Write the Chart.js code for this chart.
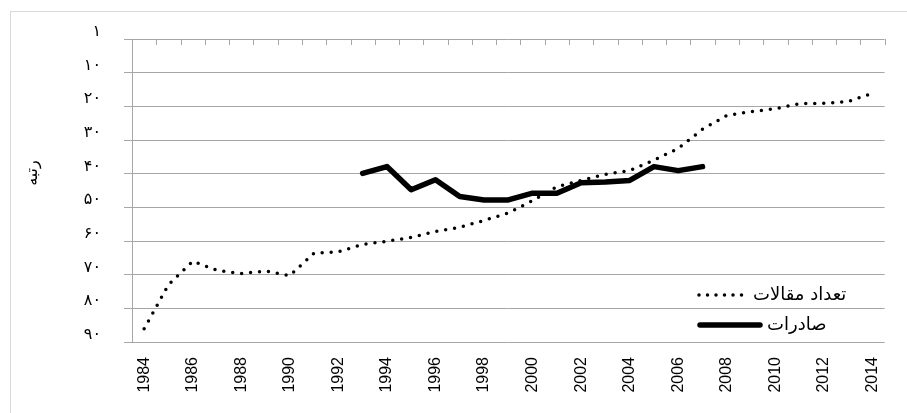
<!DOCTYPE html>
<html>
<head>
<meta charset="utf-8">
<script src="https://cdn.jsdelivr.net/npm/chart.js@4/dist/chart.umd.min.js"></script>
<style>
  html, body { margin: 0; padding: 0; background: #fff; }
  #wrap { width: 907px; height: 413px; }
</style>
</head>
<body>
<div id="wrap"><canvas id="rankChart" width="907" height="413"></canvas></div>
<script>
// Données (rang, 1 = meilleur)
const years = [];
for (let y = 1984; y <= 2014; y++) years.push(String(y));

const articleRanks = [86.1, 73.0, 66.0, 68.7, 69.7, 68.9, 70.3, 63.6, 63.2, 61.0,
    60.1, 58.9, 57.2, 55.9, 53.9, 51.7, 48.0, 43.9, 42.0, 40.2,
    39.1, 36.0, 32.5, 26.8, 22.7, 21.6, 20.7, 19.2, 19.1, 18.6, 16.1];

const exportRanks = [null, null, null, null, null, null, null, null, null,
    39.9, 37.9, 44.8, 41.8, 46.8, 47.8, 47.8, 45.8, 45.8, 42.7, 42.5,
    42.0, 37.9, 39.1, 37.9,
    null, null, null, null, null, null, null];

const yTickLabels = { 0: '۱', 10: '۱۰', 20: '۲۰', 30: '۳۰', 40: '۴۰', 50: '۵۰', 60: '۶۰', 70: '۷۰', 80: '۸۰', 90: '۹۰' };

const seriesNames = ['تعداد مقالات', 'صادرات'];
const axisTitle = 'رتبه';

const gridGray = '#a6a6a6';
const persianFont = '"DejaVu Sans", sans-serif';

// Cadre extérieur gris clair + titre de l'axe vertical
const frame = {
    id: 'frame',
    beforeDraw(chart) {
        const ctx = chart.ctx;
        ctx.save();
        ctx.fillStyle = '#fff';
        ctx.fillRect(0, 0, chart.width, chart.height);
        ctx.strokeStyle = '#d9d9d9';
        ctx.lineWidth = 1;
        ctx.strokeRect(10.5, 11.5, 1000, 1000);

        // titre "رتبه" un peu au-dessus du centre, comme dans l'original
        ctx.translate(33, 173);
        ctx.rotate(-Math.PI / 2);
        ctx.font = '16px ' + persianFont;
        ctx.fillStyle = '#000';
        ctx.textAlign = 'center';
        ctx.textBaseline = 'middle';
        ctx.direction = 'rtl';
        ctx.fillText(axisTitle, 0, 0);
        ctx.restore();
    }
};

// Petites graduations vers le bas sur l'axe du haut
const topTicks = {
    id: 'topTicks',
    beforeDatasetsDraw(chart) {
        const x = chart.scales.x;
        const area = chart.chartArea;
        const n = years.length;
        const ctx = chart.ctx;
        ctx.save();
        ctx.strokeStyle = gridGray;
        ctx.lineWidth = 1;
        ctx.beginPath();
        for (let i = 0; i <= n; i++) {
            const px = Math.round(x.getPixelForValue(i - 0.5)) + 0.5;
            ctx.moveTo(px, area.top);
            ctx.lineTo(px, area.top + 6);
        }
        ctx.stroke();
        ctx.restore();
    }
};

// Légende à l'intérieur, en bas à droite
const insideLegend = {
    id: 'insideLegend',
    afterDatasetsDraw(chart) {
        const ctx = chart.ctx;
        const area = chart.chartArea;
        ctx.save();
        ctx.font = '18px ' + persianFont;
        ctx.fillStyle = '#000';
        ctx.textAlign = 'left';
        ctx.textBaseline = 'middle';

        const rows = [
            { text: seriesNames[0], y: area.bottom - 47, x1: 699, x2: 749, gap: 4, dotted: true },
            { text: seriesNames[1], y: area.bottom - 17, x1: 700, x2: 760, gap: 7, dotted: false }
        ];
        rows.forEach(r => {
            ctx.direction = 'rtl';
            ctx.fillText(r.text, r.x2 + r.gap, r.y);
            ctx.beginPath();
            ctx.strokeStyle = '#000';
            ctx.lineCap = 'round';
            if (r.dotted) {
                ctx.lineWidth = 3.5;
                ctx.setLineDash([0, 8.5]);
            } else {
                ctx.lineWidth = 5.5;
                ctx.setLineDash([]);
            }
            ctx.moveTo(r.x1, r.y);
            ctx.lineTo(r.x2, r.y);
            ctx.stroke();
        });
        ctx.restore();
    }
};

new Chart(document.getElementById('rankChart'), {
    type: 'line',
    data: {
        labels: years,
        datasets: [
            {
                label: seriesNames[0],
                data: articleRanks,
                borderColor: '#000',
                borderWidth: 3.5,
                borderDash: [0, 9],
                borderCapStyle: 'round',
                pointRadius: 0,
                tension: 0,
                fill: false
            },
            {
                label: seriesNames[1],
                data: exportRanks,
                borderColor: '#000',
                borderWidth: 5.5,
                borderCapStyle: 'round',
                borderJoinStyle: 'round',
                pointRadius: 0,
                tension: 0,
                fill: false,
                spanGaps: false
            }
        ]
    },
    options: {
        responsive: false,
        animation: false,
        events: [],
        layout: { padding: { left: 24, top: 39, right: 20, bottom: 0 } },
        plugins: {
            legend: { display: false },
            tooltip: { enabled: false }
        },
        scales: {
            x: {
                type: 'category',
                offset: true,
                grid: { display: false, drawTicks: false },
                border: { display: false },
                ticks: {
                    autoSkip: false,
                    minRotation: 90,
                    maxRotation: 90,
                    padding: 15,
                    color: '#000',
                    font: { family: '"Liberation Sans", Arial, sans-serif', size: 16 },
                    callback(val, i) { return i % 2 === 0 ? years[i] : ''; }
                },
                afterFit(scale) { scale.height = 71; }
            },
            y: {
                reverse: true,
                min: 0,
                max: 90,
                grid: { color: gridGray, tickLength: 8, lineWidth: 1 },
                border: { display: true, color: gridGray },
                ticks: {
                    stepSize: 10,
                    padding: 23,
                    labelOffset: -7,
                    color: '#000',
                    font: { family: persianFont, size: 16 },
                    callback(v) { return yTickLabels[v] || ''; }
                },
                afterFit(scale) { scale.width = 108; }
            }
        }
    },
    plugins: [frame, topTicks, insideLegend]
});
</script>
</body>
</html>
